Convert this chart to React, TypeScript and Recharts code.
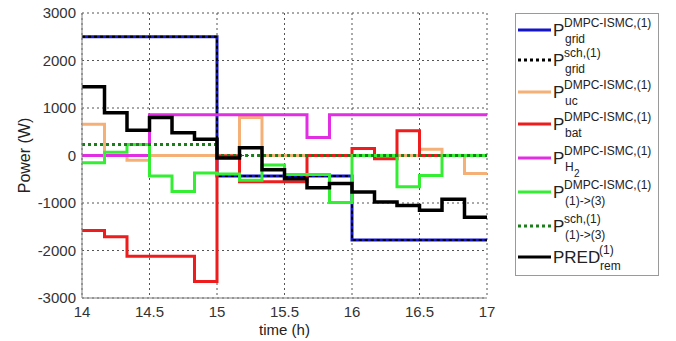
import React from "react";
import { LineChart, Line, XAxis, YAxis, CartesianGrid } from "recharts";

// time instants (h), 10-minute steps; the last point closes the final step
const times = [14, 14.1667, 14.3333, 14.5, 14.6667, 14.8333, 15, 15.1667, 15.3333, 15.5, 15.6667, 15.8333, 16, 16.1667, 16.3333, 16.5, 16.6667, 16.8333, 17];

// values for each 10-minute interval (W)
const pGrid = [2500, 2500, 2500, 2500, 2500, 2500, -430, -430, -430, -430, -430, -430, -1780, -1780, -1780, -1780, -1780, -1780];
const pGridSch = [2500, 2500, 2500, 2500, 2500, 2500, -430, -430, -430, -430, -430, -430, -1780, -1780, -1780, -1780, -1780, -1780];
const pUc = [660, 0, -100, 0, 0, 0, 0, 800, 0, 0, 0, 0, 0, 0, 0, 130, 0, -380];
const pBat = [-1580, -1710, -2120, -2120, -2120, -2650, -10, -550, -550, -550, 0, 0, 150, -70, 520, 0, 0, 0];
const pH2 = [0, 0, 0, 860, 860, 860, 860, 860, 860, 860, 380, 860, 860, 860, 860, 860, 860, 860];
const p13 = [-150, 70, 230, -430, -760, -370, -390, -520, -200, -400, -400, -990, 0, 0, -660, -420, 0, 0];
const p13Sch = [230, 230, 230, 230, 230, 230, 0, 0, 0, 0, 0, 0, 0, 0, 0, 0, 0, 0];
const predRem = [1450, 900, 530, 800, 480, 340, -50, 165, -300, -490, -680, -590, -770, -980, -1050, -1150, -920, -1300];

const xTicks = [14, 14.5, 15, 15.5, 16, 16.5, 17];
const yTicks = [-3000, -2000, -1000, 0, 1000, 2000, 3000];

const pick = (arr: number[], i: number) => arr[Math.min(i, arr.length - 1)];
const data = times.map((t, i) => ({
  t,
  grid: pick(pGrid, i),
  gridSch: pick(pGridSch, i),
  uc: pick(pUc, i),
  bat: pick(pBat, i),
  h2: pick(pH2, i),
  p13: pick(p13, i),
  p13Sch: pick(p13Sch, i),
  pred: pick(predRem, i),
}));

const C = {
  grid: "#1414c8",
  sch: "#000000",
  uc: "#f5b078",
  bat: "#ee1c1c",
  h2: "#e22ee2",
  p13: "#33ee33",
  p13Sch: "#1a7f1a",
  pred: "#000000",
};

const FONT = "'Liberation Sans', Arial, sans-serif";

type Row = { c: number; color: string; dash?: string; main: string; sup: string; sub: string; subSub?: string };
const rows: Row[] = [
  { c: 30, color: C.grid, main: "P", sup: "DMPC-ISMC,(1)", sub: "grid" },
  { c: 60, color: C.sch, dash: "3 3", main: "P", sup: "sch,(1)", sub: "grid" },
  { c: 92, color: C.uc, main: "P", sup: "DMPC-ISMC,(1)", sub: "uc" },
  { c: 124, color: C.bat, main: "P", sup: "DMPC-ISMC,(1)", sub: "bat" },
  { c: 158, color: C.h2, main: "P", sup: "DMPC-ISMC,(1)", sub: "H", subSub: "2" },
  { c: 192, color: C.p13, main: "P", sup: "DMPC-ISMC,(1)", sub: "(1)->(3)" },
  { c: 226, color: C.p13Sch, dash: "3 3", main: "P", sup: "sch,(1)", sub: "(1)->(3)" },
  { c: 257, color: C.pred, main: "PRED", sup: "(1)", sub: "rem" },
];

function LegendBox() {
  return (
    <svg width={676} height={341} style={{ position: "absolute", left: 0, top: 0, pointerEvents: "none" }}>
      <rect x={515.5} y={13.5} width={143} height={262} fill="#fff" stroke="#9a9a9a" strokeWidth={1} />
      {rows.map((r, i) => {
        const isPred = r.main === "PRED";
        const mainW = isPred ? 46 : 11;
        const x0 = 553;
        return (
          <g key={i} fontFamily={FONT} fill="#222">
            <line x1={518} x2={551} y1={r.c} y2={r.c} stroke={r.color} strokeWidth={3} strokeDasharray={r.dash} />
            <text x={x0} y={r.c + 6} fontSize={17}>{r.main}</text>
            <text x={x0 + mainW} y={r.c - 3} fontSize={12}>{r.sup}</text>
            <text x={x0 + mainW + 1} y={r.c + 13} fontSize={12}>{r.sub}</text>
            {r.subSub ? (
              <text x={x0 + mainW + 10} y={r.c + 19} fontSize={10}>{r.subSub}</text>
            ) : null}
          </g>
        );
      })}
    </svg>
  );
}

export default function App() {
  const lineProps = { type: "stepAfter" as const, dot: false, isAnimationActive: false, strokeLinecap: "butt" as const };
  return (
    <div style={{ position: "absolute", left: 0, top: 0, width: 676, height: 341, background: "#fff", fontFamily: FONT }}>
      <LineChart width={676} height={341} data={data} margin={{ top: 13, right: 189, bottom: 0, left: 0 }}>
        <CartesianGrid stroke="#555" strokeDasharray="2 3" strokeWidth={1} />
        <XAxis
          dataKey="t"
          type="number"
          domain={[14, 17]}
          ticks={xTicks}
          allowDataOverflow
          height={43}
          tickLine={false}
          tickSize={6}
          tickMargin={2}
          stroke="#808080"
          tick={{ fill: "#333", fontSize: 15, fontFamily: FONT }}
          label={{ value: "time (h)", position: "insideBottom", offset: 6, fill: "#222", fontSize: 15, fontFamily: FONT }}
        />
        <XAxis xAxisId="top" dataKey="t" type="number" domain={[14, 17]} orientation="top" height={0} tick={false} tickLine={false} stroke="#808080" />
        <YAxis
          type="number"
          domain={[-3000, 3000]}
          ticks={yTicks}
          width={82}
          tickLine={false}
          tickSize={4}
          tickMargin={2}
          stroke="#808080"
          tick={{ fill: "#333", fontSize: 15, fontFamily: FONT }}
          label={{ value: "Power (W)", angle: -90, position: "insideLeft", offset: 24, fill: "#222", fontSize: 16, fontFamily: FONT, style: { textAnchor: "middle" } }}
        />
        <YAxis yAxisId="right" orientation="right" domain={[-3000, 3000]} width={0} tick={false} tickLine={false} stroke="#808080" />
        <Line {...lineProps} dataKey="grid" stroke={C.grid} strokeWidth={3} />
        <Line {...lineProps} dataKey="gridSch" stroke={C.sch} strokeWidth={2} strokeDasharray="3 3" />
        <Line {...lineProps} dataKey="uc" stroke={C.uc} strokeWidth={3} />
        <Line {...lineProps} dataKey="bat" stroke={C.bat} strokeWidth={3} />
        <Line {...lineProps} dataKey="h2" stroke={C.h2} strokeWidth={3} />
        <Line {...lineProps} dataKey="p13" stroke={C.p13} strokeWidth={3} />
        <Line {...lineProps} dataKey="p13Sch" stroke={C.p13Sch} strokeWidth={3} strokeDasharray="3 3" />
        <Line {...lineProps} dataKey="pred" stroke={C.pred} strokeWidth={3.5} />
      </LineChart>
      <LegendBox />
    </div>
  );
}
